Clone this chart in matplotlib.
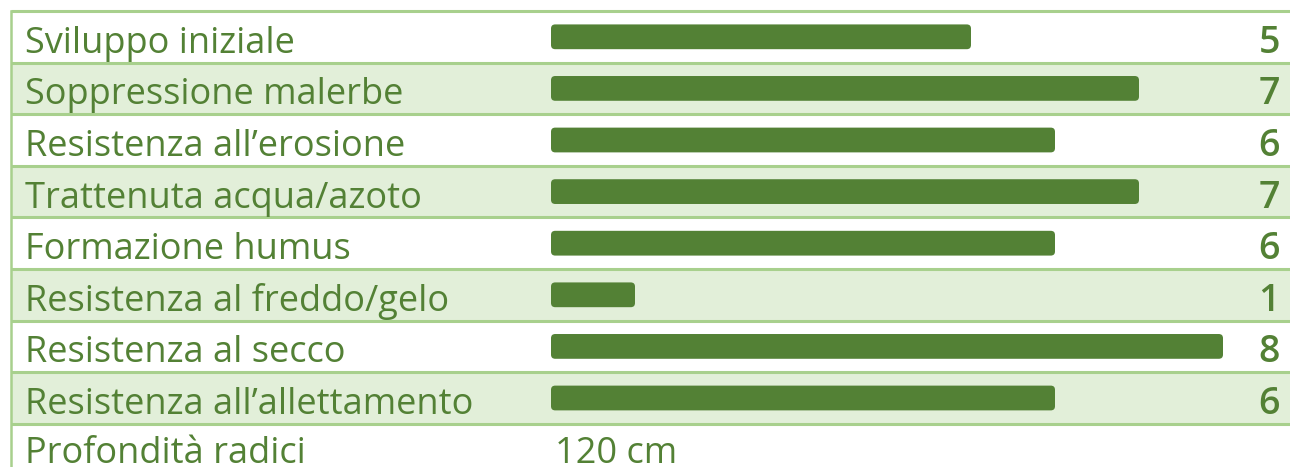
import matplotlib

matplotlib.use("Agg")
import matplotlib.pyplot as plt
from matplotlib.patches import FancyBboxPatch, Rectangle

plt.rcParams["font.family"] = ["Open Sans", "DejaVu Sans"]

labels = [
    "Sviluppo iniziale",
    "Soppressione malerbe",
    "Resistenza all\u2019erosione",
    "Trattenuta acqua/azoto",
    "Formazione humus",
    "Resistenza al freddo/gelo",
    "Resistenza al secco",
    "Resistenza all\u2019allettamento",
]
scores = [5, 7, 6, 7, 6, 1, 8, 6]
extra_label = "Profondità radici"
extra_value = "120 cm"

GREEN = "#538135"
LIGHT = "#E2EFD9"
LINE = "#A8D08D"

W, H = 1290, 467
PX = 84.0          # pixels per score unit
X0 = 551           # pixel where bars start
ROW = 51.6         # row height in pixels
TOP = 11           # top border pixel

fig = plt.figure(figsize=(W / 100, H / 100), dpi=100)
ax = fig.add_axes([0, 0, 1, 1])
ax.set_xlim(-X0 / PX, (W - X0) / PX)
ax.set_ylim((H - TOP) / ROW, -TOP / ROW)
ax.axis("off")

x_left = (11 - X0) / PX
x_right = (W - X0) / PX
x_text = (25 - X0) / PX
x_num = (1280 - X0) / PX
base = 0.81  # baseline offset inside a row

n = len(labels) + 1
for i in range(n):
    if i % 2 == 1:
        ax.add_patch(Rectangle((x_left, i), x_right - x_left, 1, color=LIGHT, lw=0, zorder=0))
    ax.plot([x_left, x_right], [i, i], color=LINE, lw=2.2, zorder=1, solid_capstyle="butt")
ax.plot([x_left, x_left], [0, (H - TOP) / ROW], color=LINE, lw=1.8, zorder=1)

bar_h = 0.48
aspect = PX / ROW
for i, (lab, s) in enumerate(zip(labels, scores)):
    yc = i + 0.5
    ax.text(x_text, i + base, lab, color=GREEN, fontsize=26, va="baseline", ha="left")
    ax.add_patch(FancyBboxPatch((0, yc - bar_h / 2), s, bar_h,
                                boxstyle="round,pad=0,rounding_size=0.05",
                                mutation_aspect=aspect, fc=GREEN, ec="none", zorder=2))
    ax.text(x_num, i + base, str(s), color=GREEN, fontsize=27, fontweight="semibold",
            va="baseline", ha="right")

# last row sits partly below the image edge, as in the source
i = len(labels)
ax.text(x_text, i + 0.76, extra_label, color=GREEN, fontsize=26, va="baseline", ha="left")
ax.text(0.05, i + 0.76, extra_value, color=GREEN, fontsize=26, va="baseline", ha="left")

fig.savefig("out.png", dpi=100)
